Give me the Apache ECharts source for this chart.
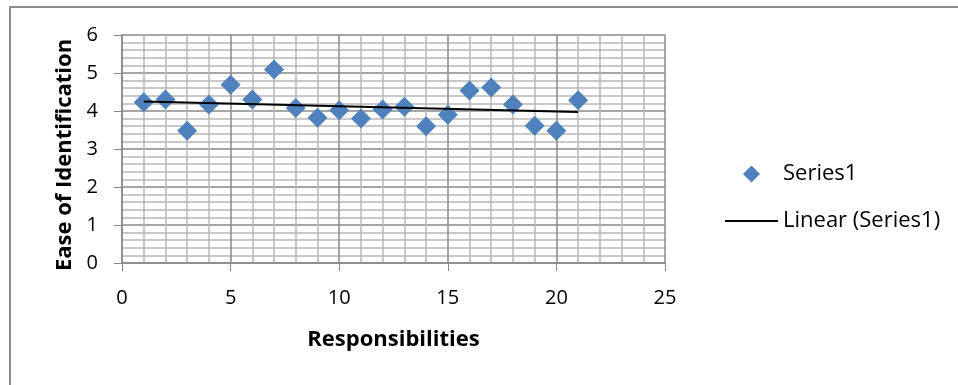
<!DOCTYPE html>
<html>
<head>
<meta charset="utf-8">
<script src="https://cdn.jsdelivr.net/npm/echarts@6/dist/echarts.min.js"></script>
<style>
html,body{margin:0;padding:0;background:#fff;}
#chart{width:958px;height:385px;}
</style>
</head>
<body>
<div id="chart"></div>
<script>
// Data
const responsibilities = [1,2,3,4,5,6,7,8,9,10,11,12,13,14,15,16,17,18,19,20,21];
const easeValues = [4.23,4.30,3.48,4.17,4.69,4.30,5.09,4.08,3.82,4.02,3.80,4.04,4.11,3.60,3.90,4.54,4.62,4.17,3.61,3.48,4.28];
const xTicks = [0,5,10,15,20,25];
const yTicks = [0,1,2,3,4,5,6];
const seriesName = 'Series1';
const trendName = 'Linear (Series1)';
const xTitle = 'Responsibilities';
const yTitle = 'Ease of Identification';

// Least-squares linear trend (like Excel's "Linear" trendline), from the data above
const n = responsibilities.length;
const mx = responsibilities.reduce((a,b)=>a+b,0)/n;
const my = easeValues.reduce((a,b)=>a+b,0)/n;
let sxy = 0, sxx = 0;
for (let i=0;i<n;i++){ sxy += (responsibilities[i]-mx)*(easeValues[i]-my); sxx += (responsibilities[i]-mx)**2; }
const slope = sxy/sxx, intercept = my - slope*mx;
const xFirst = responsibilities[0], xLast = responsibilities[n-1];
const trendData = [[xFirst, intercept+slope*xFirst],[xLast, intercept+slope*xLast]];

const FONT = 'Open Sans';
const chart = echarts.init(document.getElementById('chart'), null, {renderer:'canvas'});
chart.setOption({
  animation:false,
  backgroundColor:'#fff',
  textStyle:{fontFamily:FONT},
  graphic:[{
    type:'rect', shape:{x:10, y:7, width:1200, height:600},
    style:{fill:'none', stroke:'#8c8c8c', lineWidth:2}, silent:true, z:-10
  }],
  grid:{left:122, right:293, top:35, bottom:122, containLabel:false},
  legend:[
    {
      orient:'vertical', left:738, top:158,
      itemWidth:17, itemHeight:17,
      textStyle:{fontFamily:FONT, fontSize:22, color:'#000', padding:[0,0,0,18]},
      data:[{name:seriesName, icon:'diamond', itemStyle:{color:'#4F81BD', opacity:1}}]
    },
    {
      orient:'vertical', left:720, top:205,
      itemWidth:53, itemHeight:2,
      textStyle:{fontFamily:FONT, fontSize:22, color:'#000'},
      data:[{name:trendName, icon:'rect', itemStyle:{color:'#000'}}]
    }
  ],
  xAxis:{
    type:'value', min:xTicks[0], max:xTicks[xTicks.length-1], interval:5,
    name:xTitle, nameLocation:'middle', nameGap:66,
    nameTextStyle:{fontFamily:FONT, fontSize:22, fontWeight:'bold', color:'#000'},
    axisLine:{show:true, lineStyle:{color:'#888', width:1.5}},
    axisTick:{show:true, length:8, lineStyle:{color:'#888'}},
    axisLabel:{fontFamily:FONT, fontSize:20, color:'#000', margin:25},
    splitLine:{show:true, lineStyle:{color:'#8a8a8a', width:1.5}},
    minorTick:{show:false, splitNumber:5},
    minorSplitLine:{show:true, lineStyle:{color:'#b8b8b8', width:1.5}}
  },
  yAxis:{
    type:'value', min:yTicks[0], max:yTicks[yTicks.length-1], interval:1,
    name:yTitle, nameLocation:'middle', nameGap:44,
    nameTextStyle:{fontFamily:FONT, fontSize:22, fontWeight:'bold', color:'#000', padding:[0,12,0,0]},
    axisLine:{show:true, lineStyle:{color:'#888', width:1.5}},
    axisTick:{show:true, length:8, lineStyle:{color:'#888'}},
    axisLabel:{fontFamily:FONT, fontSize:20, color:'#000', margin:24},
    splitLine:{show:true, lineStyle:{color:'#8a8a8a', width:1.5}},
    minorTick:{show:false, splitNumber:5},
    minorSplitLine:{show:true, lineStyle:{color:'#b8b8b8', width:1.5}}
  },
  series:[
    {
      name:seriesName, type:'scatter', symbol:'diamond', symbolSize:20,
      itemStyle:{color:'#4F81BD', opacity:1},
      data:responsibilities.map((x,i)=>[x, easeValues[i]]), z:3
    },
    {
      name:trendName, type:'line', symbol:'none', showSymbol:false,
      lineStyle:{color:'#000', width:2},
      itemStyle:{color:'#000'},
      data:trendData, z:4
    }
  ]
});
</script>
</body>
</html>
